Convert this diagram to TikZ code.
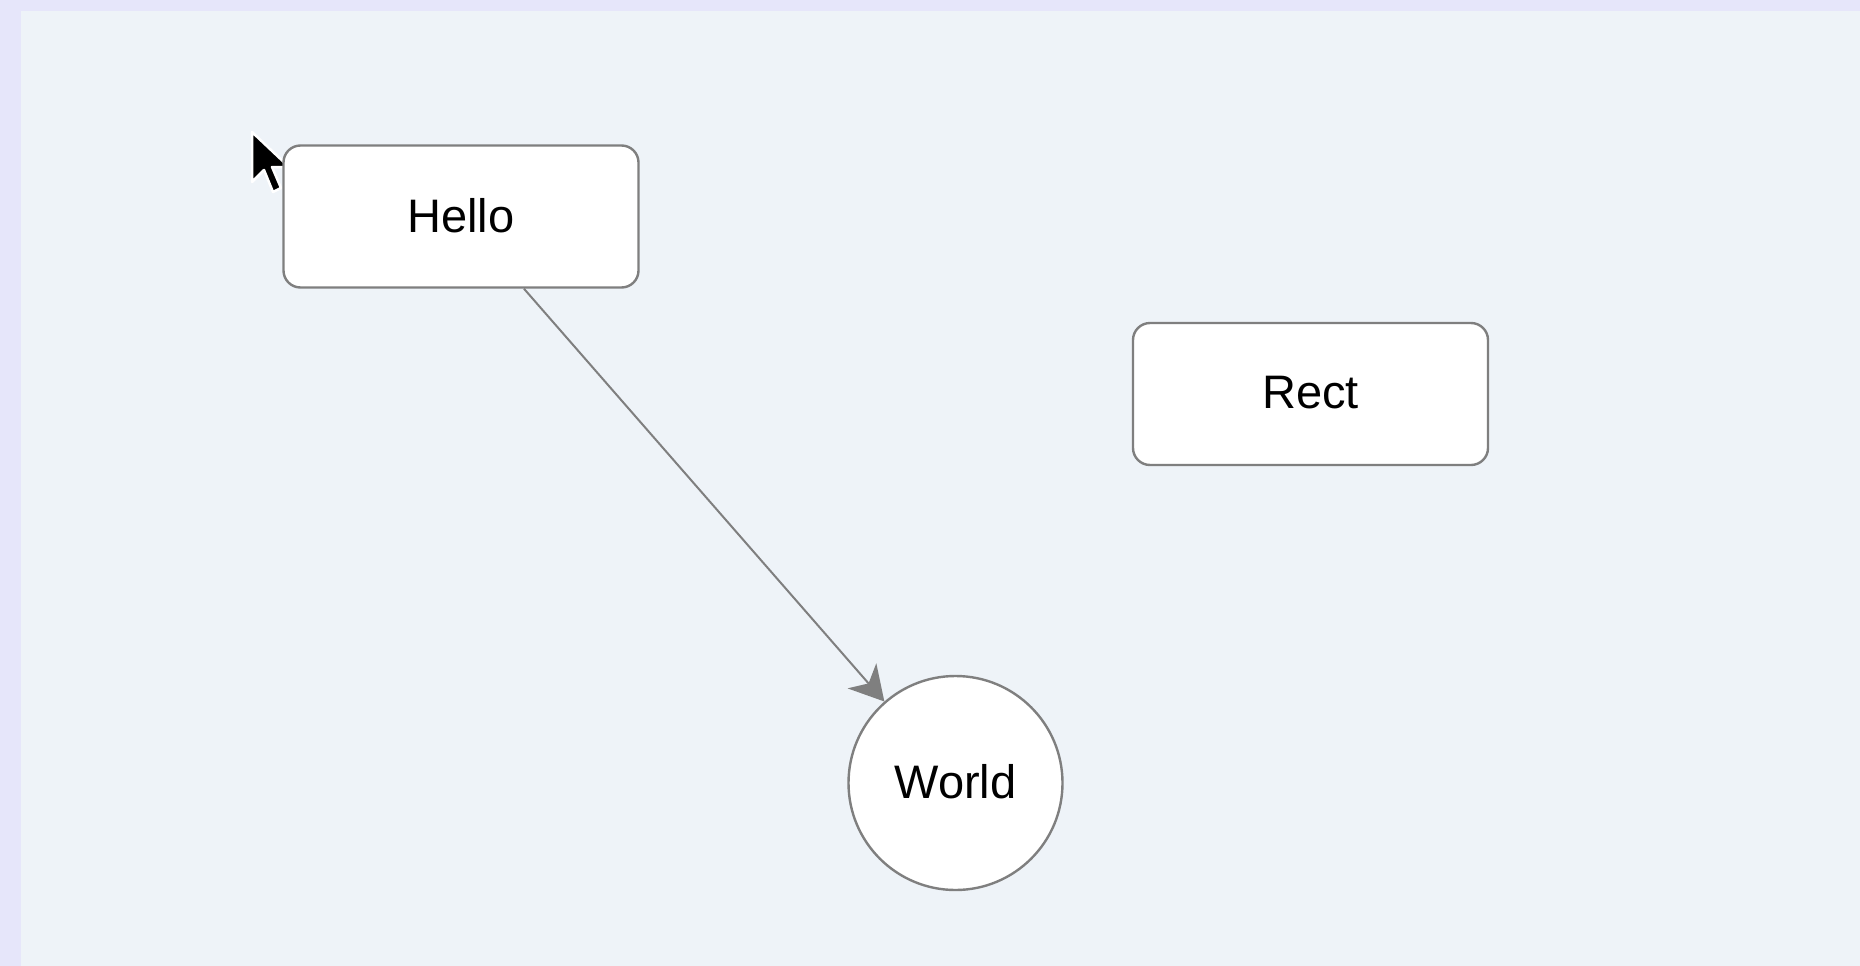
\documentclass[tikz,border=0pt]{standalone}
\usepackage{fontspec}
\setmainfont{Liberation Sans}
\usetikzlibrary{arrows.meta}
\definecolor{outerbg}{HTML}{E6E6FA}
\definecolor{innerbg}{HTML}{EEF3F8}
\definecolor{edgegray}{HTML}{7F7F7F}
\newcommand{\lbltext}[1]{\raisebox{3pt}{#1}}
\begin{document}
\begin{tikzpicture}[x=1pt,y=-1pt,
  box/.style={draw=edgegray, line width=2.4pt, fill=white, rounded corners=17pt,
    minimum width=355pt, minimum height=142pt, inner sep=0pt,
    font=\fontsize{47}{56}\selectfont},
  roundnode/.style={draw=edgegray, line width=2.4pt, fill=white, circle,
    minimum size=214pt, inner sep=0pt, font=\fontsize{47}{56}\selectfont},
  link/.style={draw=edgegray, line width=2pt,
    -{Stealth[length=34pt, width=38pt, inset=10pt]}}]
\useasboundingbox (0,0) rectangle (1860,966);
\fill[outerbg] (0,0) rectangle (1860,966);
\fill[innerbg] (21,11) rectangle (1860,966);
% mouse cursor
\filldraw[fill=black, draw=white, line width=2.5pt, line join=round]
  (252,132) -- (252,182) -- (264,170) -- (273,192) -- (281,188) -- (272,167) -- (289,167) -- cycle;
\node[box] (hello) at (461,216.5) {\lbltext{Hello}};
\node[box] (rect) at (1310.5,394) {\lbltext{Rect}};
\node[roundnode] (world) at (955.5,783) {\lbltext{World}};
\draw[link] (hello) -- (world);
\end{tikzpicture}
\end{document}
